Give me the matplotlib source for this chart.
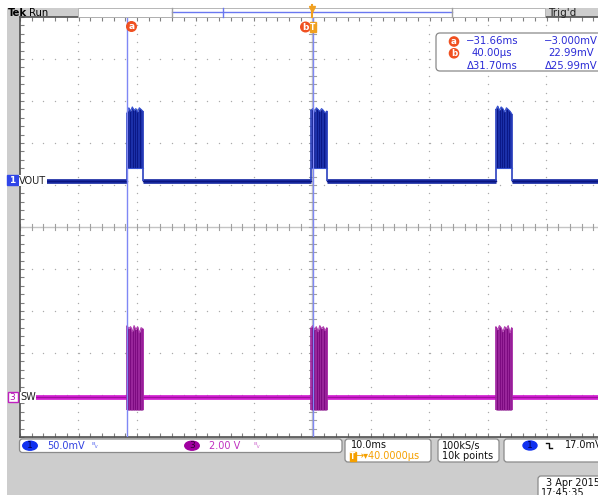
import matplotlib.pyplot as plt
from matplotlib.patches import FancyBboxPatch, Rectangle, Ellipse, Circle
import numpy as np

W, H = 598, 495

# scope settings
t_lim = (-50.0, 50.0)            # 10 ms/div, 10 div
ch1_lim = (-305.95, 194.05)      # VOUT, 50 mV/div
ch3_lim = (-1.905, 18.095)       # SW, 2 V/div

cursor_a_ms = -31.66
cursor_b_ms = 0.04

# burst data
burst_start_ms = [-31.7, -0.25, 31.35]
burst_offs_ms = [0.0, 0.3, 0.6, 0.9, 1.2, 1.5, 1.8, 2.1, 2.4, 2.7]
vout_base_mv = -1.0
vout_bottom_mv = 14.0
vout_top_mv = [
    [80, 86, 82, 87, 83, 85, 81, 86, 84, 82],
    [83, 85, 81, 86, 84, 82, 85, 83, 80, 82],
    [84, 88, 83, 87, 85, 81, 86, 84, 82, 79],
]
sw_base_v = 0.0
sw_bottom_v = -0.62
sw_top_v = [
    [3.4, 3.25, 3.35, 3.1, 3.4, 3.2, 3.35, 3.05, 3.3, 3.25],
    [3.3, 3.4, 3.2, 3.35, 3.1, 3.4, 3.25, 3.35, 3.15, 3.3],
    [3.35, 3.2, 3.4, 3.3, 3.1, 3.35, 3.25, 3.4, 3.05, 3.3],
]

fig = plt.figure(figsize=(W / 100, H / 100), dpi=100)
fig.patch.set_facecolor('#cdcdcd')
rect = [20 / W, (H - 437) / H, 585 / W, 420 / H]

# graticule
ax = fig.add_axes(rect, zorder=1)
ax.set_facecolor('white')
ax.set_xlim(-5, 5)
ax.set_ylim(-5, 5)
ticks = np.arange(-5, 5.01, 0.2)
ax.set_xticks(ticks)
ax.set_yticks(ticks)
ax.tick_params(direction='in', length=3, color='#808080', width=0.8,
               top=True, right=True, labelbottom=False, labelleft=False)
for s in ax.spines.values():
    s.set_color('#505050')
    s.set_linewidth(1.2)
for i in range(-4, 5):
    if i != 0:
        ax.scatter(np.full(len(ticks), i), ticks, s=1.0, color='#ababab', lw=0)
        ax.scatter(ticks, np.full(len(ticks), i), s=1.0, color='#ababab', lw=0)
ax.axhline(0, color='#c4c4c4', lw=1)
ax.axvline(0, color='#c4c4c4', lw=1)
for tk in ticks:
    ax.plot([tk, tk], [-0.08, 0.08], color='#a0a0a0', lw=0.8)
    ax.plot([-0.06, 0.06], [tk, tk], color='#a0a0a0', lw=0.8)

# channel 1 - VOUT
ax1 = fig.add_axes(rect, zorder=2)
ax1.set_xlim(*t_lim)
ax1.set_ylim(*ch1_lim)
ax1.axis('off')
edges = [t_lim[0]]
for s in burst_start_ms:
    edges += [s, s + burst_offs_ms[-1]]
edges.append(t_lim[1])
c1 = '#1a2ca4'
for k in range(0, len(edges), 2):
    ax1.plot([edges[k], edges[k + 1]], [vout_base_mv] * 2, color=c1, lw=3.4,
             solid_capstyle='butt')
    ax1.plot([edges[k], edges[k + 1]], [vout_base_mv] * 2, color='#0a1580', lw=1.0)
for s, top in zip(burst_start_ms, vout_top_mv):
    tt = [s + o for o in burst_offs_ms]
    ax1.fill_between(tt, vout_bottom_mv, top, color='#0a1888', lw=0)
    ax1.vlines(tt[1:-1], vout_bottom_mv, top[1:-1], color='#2a44c4', lw=0.4)
    ax1.plot(tt, top, color='#3550d0', lw=0.8)
    ax1.vlines([tt[0], tt[-1]], vout_base_mv, [top[0], top[-1]], color='#2a40c0', lw=1.2)
    ax1.plot(tt, [vout_bottom_mv] * len(tt), color='#3550d0', lw=0.8)

# channel 3 - SW
ax3 = fig.add_axes(rect, zorder=3)
ax3.set_xlim(*t_lim)
ax3.set_ylim(*ch3_lim)
ax3.axis('off')
c3 = '#d01ed0'
for k in range(0, len(edges), 2):
    ax3.plot([edges[k], edges[k + 1]], [sw_base_v] * 2, color=c3, lw=3.4,
             solid_capstyle='butt')
    ax3.plot([edges[k], edges[k + 1]], [sw_base_v] * 2, color='#a010a0', lw=0.8)
for s, top in zip(burst_start_ms, sw_top_v):
    tt = [s + o for o in burst_offs_ms]
    ax3.fill_between(tt, sw_bottom_v, top, color='#7c0a80', lw=0)
    ax3.vlines(tt[1:-1], sw_bottom_v, top[1:-1], color='#b03cb0', lw=0.4)
    ax3.plot(tt, top, color='#b040b0', lw=0.8)
    ax3.vlines([tt[0], tt[-1]], sw_bottom_v, [top[0], top[-1]], color='#a020a0', lw=1.2)

# cursors
ax3.axvline(cursor_a_ms, color='#7f88f5', lw=1)
ax3.axvline(cursor_b_ms, color='#7f88f5', lw=1)

# overlay in pixel coordinates
ov = fig.add_axes([0, 0, 1, 1], zorder=4)
ov.set_xlim(0, W)
ov.set_ylim(H, 0)
ov.axis('off')

ov.add_patch(Rectangle((0, 0), 7, H, color='white', lw=0))
ov.add_patch(Rectangle((0, 0), W, 8, color='white', lw=0))

# top bar
ov.add_patch(Rectangle((78, 8), 467, 9, facecolor='white', edgecolor='#b0b0b0', lw=0.6))
ov.text(7.5, 12.8, 'Tek', fontsize=7.3, fontweight='bold', va='center', ha='left')
ov.text(29, 12.8, 'Run', fontsize=7.3, va='center', ha='left')
ov.text(548, 12.8, "Trig'd", fontsize=7.5, va='center', ha='left', color='#202020')
ov.plot([172, 452], [12, 12], color='#6a78f0', lw=1)
ov.plot([172, 172], [8, 17], color='#a0a0a0', lw=1)
ov.plot([452, 452], [8, 17], color='#a0a0a0', lw=1)
ov.plot([223, 223], [8, 17], color='#6a78f0', lw=1)
ov.plot([312, 312], [5, 17], color='#f0a020', lw=1.5)
ov.plot([312], [9], marker='v', color='#f0a020', ms=4)

# cursor markers
ov.add_patch(Circle((131.5, 26.5), 4.8, color='#f05020'))
ov.text(131.5, 26.8, 'a', color='white', fontsize=6.5, ha='center', va='center',
        fontweight='bold')
ov.add_patch(Circle((305.5, 27), 4.8, color='#f05020'))
ov.text(305.5, 27.3, 'b', color='white', fontsize=6.5, ha='center', va='center',
        fontweight='bold')
ov.add_patch(Rectangle((309.5, 22), 6, 10, color='#f0a020'))
ov.text(312.5, 27.3, 'T', color='white', fontsize=5.5, ha='center', va='center',
        fontweight='bold')

# cursor readout
ov.add_patch(FancyBboxPatch((436, 33), 170, 38, boxstyle='round,pad=0,rounding_size=4',
                            facecolor='white', edgecolor='#8a8a8a', lw=0.9))
blue = '#2a2ad6'
for yy, lab in [(41.5, 'a'), (53.3, 'b')]:
    ov.add_patch(Circle((454, yy), 4.6, color='#f05020'))
    ov.text(454, yy + 0.3, lab, color='white', fontsize=6.3, ha='center', va='center',
            fontweight='bold')
rows = [('−31.66ms', '−3.000mV'), ('40.00µs', '22.99mV'), ('Δ31.70ms', 'Δ25.99mV')]
for yy, (l, r) in zip([41.5, 53.3, 65.6], rows):
    ov.text(492, yy, l, color=blue, fontsize=7.3, ha='center', va='center')
    ov.text(571, yy, r, color=blue, fontsize=7.3, ha='center', va='center')

# channel ground markers / labels
ov.add_patch(Rectangle((7, 175), 10.5, 10, color='#2f45e8'))
ov.text(12, 180.3, '1', color='white', fontsize=6.5, ha='center', va='center',
        fontweight='bold')
ov.text(19, 180.5, 'VOUT', fontsize=7, ha='left', va='center', color='#202020',
        bbox=dict(facecolor='white', edgecolor='none', pad=0.3))
ov.add_patch(Rectangle((7.5, 392), 10, 10, facecolor='white', edgecolor='#c020c0', lw=1))
ov.text(12.5, 397.3, '3', color='#b010b0', fontsize=6.5, ha='center', va='center')
ov.text(20, 397.5, 'SW', fontsize=7, ha='left', va='center', color='#202020',
        bbox=dict(facecolor='white', edgecolor='none', pad=0.3))

# bottom readouts
def box(x0, y0, x1, y1):
    ov.add_patch(FancyBboxPatch((x0, y0), x1 - x0, y1 - y0,
                                boxstyle='round,pad=0,rounding_size=3',
                                facecolor='white', edgecolor='#8a8a8a', lw=0.9))

box(19.5, 439, 342, 452.5)
ov.add_patch(Ellipse((30, 445.7), 14.5, 9, color='#1030f0'))
ov.text(30, 446, '1', fontsize=6.5, ha='center', va='center', color='#000050')
ov.text(47, 445.7, '50.0mV', fontsize=7, ha='left', va='center', color='#3040e0')
ov.text(91.5, 445.7, 'ᴮᵥ', fontsize=6, ha='left', va='center', color='#6070f0')
ov.add_patch(Ellipse((192, 445.7), 14.5, 9, color='#a000a0'))
ov.text(192, 446, '3', fontsize=6.5, ha='center', va='center', color='#300030')
ov.text(209, 445.7, '2.00 V', fontsize=7, ha='left', va='center', color='#c030c0')
ov.text(254, 445.7, 'ᴮᵥ', fontsize=6, ha='left', va='center', color='#d070d0')

box(345, 439, 431, 462)
ov.text(351, 445.5, '10.0ms', fontsize=7, ha='left', va='center', color='#101010')
ov.add_patch(Rectangle((349.5, 451.5), 6, 9, color='#f5a000'))
ov.text(352.5, 456.2, 'T', fontsize=5.5, ha='center', va='center', color='white',
        fontweight='bold')
ov.text(356, 456.2, '→▾40.0000µs', fontsize=7, ha='left', va='center', color='#f5a000')

box(438, 439, 499, 462)
ov.text(442, 445.5, '100kS/s', fontsize=7, ha='left', va='center', color='#101010')
ov.text(442, 456.2, '10k points', fontsize=7, ha='left', va='center', color='#101010')

box(504, 439, 606, 462)
ov.add_patch(Ellipse((530, 445.5), 14, 9, color='#1030f0'))
ov.text(530, 445.8, '1', fontsize=6.5, ha='center', va='center', color='#000050')
ov.plot([546, 549, 549, 552], [443, 443, 448, 448], color='#101010', lw=1)
ov.text(565, 445.5, '17.0mV', fontsize=7, ha='left', va='center', color='#101010')

box(538, 476, 606, 500)
ov.text(546, 483, '3 Apr 2015', fontsize=7, ha='left', va='center', color='#101010')
ov.text(541, 492.5, '17:45:35', fontsize=7, ha='left', va='center', color='#101010')

fig.savefig('out.png', dpi=100, facecolor=fig.get_facecolor())
